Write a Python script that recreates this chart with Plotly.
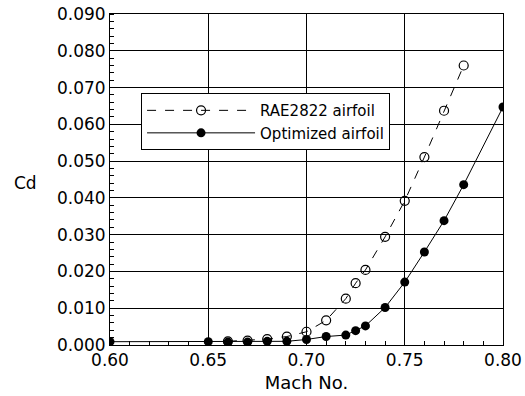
import plotly.graph_objects as go

mach_rae = [0.66, 0.67, 0.68, 0.69, 0.70, 0.71, 0.72, 0.725, 0.73, 0.74, 0.75, 0.76, 0.77, 0.78]
cd_rae = [0.0010, 0.0012, 0.0016, 0.0023, 0.0036, 0.0067, 0.0126, 0.0168, 0.0204, 0.0294, 0.0392, 0.0511, 0.0637, 0.0760]

mach_opt = [0.60, 0.65, 0.66, 0.67, 0.68, 0.69, 0.70, 0.71, 0.72, 0.725, 0.73, 0.74, 0.75, 0.76, 0.77, 0.78, 0.80]
cd_opt = [0.0009, 0.0009, 0.0008, 0.0008, 0.0010, 0.0010, 0.0015, 0.0023, 0.0027, 0.0039, 0.0052, 0.0102, 0.0171, 0.0253, 0.0338, 0.0436, 0.0647]

x_ticks = [0.60, 0.65, 0.70, 0.75, 0.80]
y_ticks = [0.000, 0.010, 0.020, 0.030, 0.040, 0.050, 0.060, 0.070, 0.080, 0.090]

font = "DejaVu Sans, Verdana, sans-serif"

fig = go.Figure()
fig.add_trace(go.Scatter(
    x=mach_rae, y=cd_rae, mode="lines+markers", name="RAE2822 airfoil",
    line=dict(color="black", width=1, dash="dash"),
    marker=dict(symbol="circle-open", size=9, color="black", line=dict(width=1.2)),
))
fig.add_trace(go.Scatter(
    x=mach_opt, y=cd_opt, mode="lines+markers", name="Optimized airfoil",
    line=dict(color="black", width=1),
    marker=dict(symbol="circle", size=9, color="black"),
))

fig.update_layout(
    width=525, height=396,
    margin=dict(l=110, r=22, t=14, b=51, autoexpand=False),
    paper_bgcolor="white", plot_bgcolor="white",
    font=dict(family=font, color="black"),
    showlegend=True,
    legend=dict(
        x=0.079, y=0.761, xanchor="left", yanchor="top",
        bgcolor="white", bordercolor="black", borderwidth=1,
        font=dict(size=15, family=font), itemwidth=108,
        tracegroupgap=0,
    ),
    xaxis=dict(
        range=[0.60, 0.80], tickvals=x_ticks, ticktext=[f"{v:.2f}" for v in x_ticks],
        showgrid=True, gridcolor="black", gridwidth=1,
        showline=True, linecolor="black", linewidth=1, mirror=True,
        ticks="", tickfont=dict(size=17), zeroline=False, automargin=False,
        minor=dict(dtick=0.01, tick0=0.6, ticks="inside", ticklen=4, tickcolor="black", showgrid=False),
        title=dict(text="Mach No.", font=dict(size=18), standoff=6),
    ),
    yaxis=dict(
        range=[0.0, 0.090], tickvals=y_ticks, ticktext=[f"{v:.3f}" for v in y_ticks],
        showgrid=True, gridcolor="black", gridwidth=1,
        showline=True, linecolor="black", linewidth=1, mirror=True,
        ticks="", tickfont=dict(size=17), zeroline=False, automargin=False,
        minor=dict(dtick=0.002, tick0=0, ticks="inside", ticklen=4, tickcolor="black", showgrid=False),
    ),
    annotations=[dict(
        text="Cd", x=-0.216, y=0.49, xref="paper", yref="paper", showarrow=False,
        xanchor="center", yanchor="middle",
        font=dict(size=17, family=font),
    )],
)

fig.write_html("out.html")
